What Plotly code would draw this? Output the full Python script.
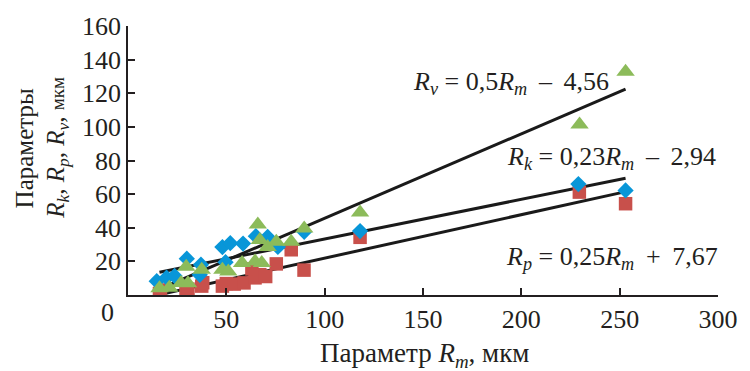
import plotly.graph_objects as go

# Data
rk_x = [14.6, 19.6, 23.7, 29.9, 37.1, 36.5, 48.0, 49.6, 52.0, 58.5, 65.0, 71.0, 76.2, 89.6, 118.0, 229.0, 253.0]
rk_y = [8.2, 10.3, 11.3, 21.6, 18.0, 12.0, 28.5, 19.5, 30.8, 30.6, 35.0, 34.5, 28.6, 37.6, 38.0, 66.0, 62.2]

rp_x = [16.0, 16.5, 29.5, 30.5, 37.5, 38.0, 48.0, 50.0, 54.0, 59.0, 64.6, 63.0, 67.0, 70.0, 75.4, 83.0, 89.5, 118.0, 229.5, 253.0]
rp_y = [0.8, 3.0, 1.8, 3.5, 5.3, 7.3, 5.3, 6.8, 6.5, 7.2, 10.2, 15.5, 12.1, 11.0, 18.5, 26.9, 14.8, 34.3, 61.2, 54.3]

rv_x = [16.0, 21.0, 27.0, 29.6, 30.5, 37.5, 48.0, 51.0, 58.0, 64.6, 66.0, 67.0, 68.0, 71.0, 75.4, 83.0, 89.6, 118.0, 229.6, 253.0]
rv_y = [4.0, 4.3, 7.2, 16.8, 7.0, 15.0, 15.0, 14.0, 19.0, 20.0, 41.9, 32.7, 19.0, 28.5, 31.6, 31.6, 39.6, 49.0, 101.4, 132.8]

# Regression line endpoints (as drawn)
fit_rv_x = [15, 253]
fit_rv_y = [3.0, 122.5]
fit_rp_x = [16, 253]
fit_rp_y = [13.5, 69.4]
fit_rk_x = [16, 252]
fit_rk_y = [0.2, 61.2]

x_ticks = [50, 100, 150, 200, 250, 300]
y_ticks = [20, 40, 60, 80, 100, 120, 140, 160]

FONT = "Liberation Serif, Times New Roman, DejaVu Serif, serif"
BLACK = "#231f20"
L, R, T, B = 127.5, 22.5, 23.5, 75.5
W, H = 750, 371
PW, PH = W - L - R, H - T - B

fig = go.Figure()
for lx, ly in [(fit_rv_x, fit_rv_y), (fit_rp_x, fit_rp_y), (fit_rk_x, fit_rk_y)]:
    fig.add_trace(go.Scatter(x=lx, y=ly, mode="lines",
                             line=dict(color="#1a1a1a", width=3), showlegend=False, hoverinfo="skip"))

fig.add_trace(go.Scatter(x=rp_x, y=rp_y, mode="markers", name="Rp",
                         marker=dict(symbol="square", size=13.5, color="#c8504b"), showlegend=False))
fig.add_trace(go.Scatter(x=rk_x, y=rk_y, mode="markers", name="Rk",
                         marker=dict(symbol="diamond", size=12.5, color="#0896d8"), showlegend=False))
fig.add_trace(go.Scatter(x=rv_x, y=rv_y, mode="markers", name="Rv",
                         marker=dict(symbol="triangle-up", size=16, color="#8cbb5a"), showlegend=False))

fig.update_layout(
    width=W, height=H,
    margin=dict(l=L, r=R, t=T, b=B),
    paper_bgcolor="white", plot_bgcolor="white",
    font=dict(family=FONT, color=BLACK, size=26),
    xaxis=dict(range=[0, 300], tickvals=x_ticks, ticks="inside", ticklen=7, tickwidth=1.5,
               tickcolor=BLACK, showline=True, linecolor=BLACK, linewidth=1.5, showgrid=False,
               zeroline=False, tickfont=dict(family=FONT, size=26, color=BLACK), ticklabelstandoff=0),
    yaxis=dict(range=[0, 160], tickvals=y_ticks, ticks="inside", ticklen=7, tickwidth=1.5,
               tickcolor=BLACK, showline=True, linecolor=BLACK, linewidth=1.5, showgrid=False,
               zeroline=False, tickfont=dict(family=FONT, size=26, color=BLACK), ticklabelstandoff=0),
)

sp = "&nbsp;"
th = "&#8201;"
ann = [
    dict(text="0", x=107, y=313, size=26),
    dict(text="Параметр <i>R</i><sub><i>m</i></sub>, мкм", x=429, y=356, size=27),
    dict(text="Параметры", x=22, y=147, textangle=-90, size=25),
    dict(text="<i>R</i><sub><i>k</i></sub>, <i>R</i><sub><i>p</i></sub>, <i>R</i><sub><i>v</i></sub>, <span style='font-size:19px'>мкм</span>",
         x=55, y=147, textangle=-90, size=25),
    dict(text=f"<i>R</i><sub><i>v</i></sub>{sp}={sp}0,5<i>R</i><sub><i>m</i></sub>{sp}{th}–{th}{sp}4,56", x=517, y=81, size=26),
    dict(text=f"<i>R</i><sub><i>k</i></sub>{sp}={sp}0,23<i>R</i><sub><i>m</i></sub>{sp}{th}–{th}{sp}2,94", x=619, y=157, size=26),
    dict(text=f"<i>R</i><sub><i>p</i></sub>{sp}={sp}0,25<i>R</i><sub><i>m</i></sub>{sp}{th}+{th}{sp}7,67", x=620, y=258, size=26),
]
for a in ann:
    fig.add_annotation(text=a["text"], x=(a["x"] - L) / PW, y=(H - B - a["y"]) / PH,
                       xref="paper", yref="paper",
                       xanchor="center", yanchor="middle", showarrow=False,
                       textangle=a.get("textangle", 0),
                       font=dict(family=FONT, size=a["size"], color=BLACK))

fig.write_html("out.html", config={"displayModeBar": False},
               post_script="document.body.style.margin='0';document.body.style.padding='0';")
